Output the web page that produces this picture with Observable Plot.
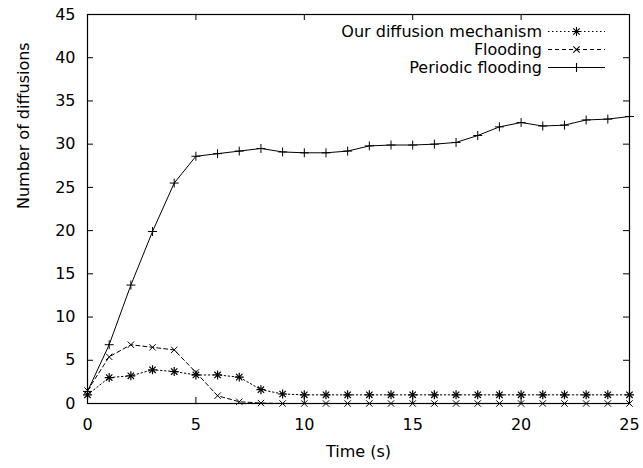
<!DOCTYPE html>
<html>
<head>
<meta charset="utf-8">
<script src="https://cdn.jsdelivr.net/npm/d3@7"></script>
<script src="https://cdn.jsdelivr.net/npm/@observablehq/plot@0.6"></script>
<style>
  html, body { margin: 0; padding: 0; background: #fff; }
  #chart { position: relative; width: 643px; height: 468px; }
  #legend { position: absolute; left: 0; top: 0; }
</style>
</head>
<body>
<div id="chart"></div>
<script>
const time = [0,1,2,3,4,5,6,7,8,9,10,11,12,13,14,15,16,17,18,19,20,21,22,23,24,25];
const ours = [1.0,3.0,3.2,3.9,3.7,3.3,3.3,3.05,1.6,1.1,1.0,1.0,1.0,1.0,1.0,1.0,1.0,1.0,1.0,1.0,1.0,1.0,1.0,1.0,1.0,1.0];
const flooding = [1.5,5.4,6.8,6.5,6.2,3.6,0.9,0.2,0.05,0,0,0,0,0,0,0,0,0,0,0,0,0,0,0,0,0];
const periodic = [1.4,6.8,13.7,19.9,25.5,28.6,28.9,29.2,29.5,29.1,29.0,29.0,29.2,29.8,29.9,29.9,30.0,30.2,31.0,32.0,32.5,32.1,32.2,32.8,32.9,33.2];
const seriesNames = ["Our diffusion mechanism", "Flooding", "Periodic flooding"];
const xTicks = [0,5,10,15,20,25];
const yTicks = [0,5,10,15,20,25,30,35,40,45];

const mk = (vals) => time.map((t, i) => ({t, v: vals[i]}));
const dOurs = mk(ours), dFlood = mk(flooding), dPer = mk(periodic);

const W = 643, H = 468;
const mL = 87, mR = 14, mT = 14, mB = 65;
const fh = H - mT - mB, fw = W - mL - mR;
const tl = 6;
const font = "DejaVu Sans";

const plot = Plot.plot({
  width: W, height: H,
  marginLeft: mL, marginRight: mR, marginTop: mT, marginBottom: mB,
  style: {fontFamily: font, fontSize: "16px", color: "black", background: "white"},
  x: {domain: [0, 25], ticks: xTicks, label: null},
  y: {domain: [0, 45], ticks: yTicks, label: null},
  marks: [
    Plot.axisX(xTicks, {tickSize: 0, tickPadding: 15, label: null, fontSize: 16}),
    Plot.axisY(yTicks, {tickSize: 0, tickPadding: 12, label: null, fontSize: 16}),
    Plot.tickX(xTicks, {x: d => d, stroke: "black", insetTop: fh - tl}),
    Plot.tickX(xTicks, {x: d => d, stroke: "black", insetBottom: fh - tl}),
    Plot.tickY(yTicks, {y: d => d, stroke: "black", insetRight: fw - tl}),
    Plot.tickY(yTicks, {y: d => d, stroke: "black", insetLeft: fw - tl}),
    Plot.line(dOurs, {x: "t", y: "v", stroke: "black", strokeWidth: 1, strokeDasharray: "1.5,2.5"}),
    Plot.line(dFlood, {x: "t", y: "v", stroke: "black", strokeWidth: 1, strokeDasharray: "4,3"}),
    Plot.line(dPer, {x: "t", y: "v", stroke: "black", strokeWidth: 1}),
    Plot.dot(dOurs, {x: "t", y: "v", symbol: "plus", r: 3, stroke: "black", strokeWidth: 1.2}),
    Plot.dot(dOurs, {x: "t", y: "v", symbol: "times", r: 3, stroke: "black", strokeWidth: 1.2}),
    Plot.dot(dFlood, {x: "t", y: "v", symbol: "times", r: 3, stroke: "black", strokeWidth: 1}),
    Plot.dot(dPer, {x: "t", y: "v", symbol: "plus", r: 3, stroke: "black", strokeWidth: 1}),
    Plot.frame({stroke: "black", strokeWidth: 1.2}),
    Plot.text(["Time (s)"], {frameAnchor: "bottom", lineAnchor: "middle", dy: 48, fontSize: 16, fill: "black"}),
    Plot.text(["Number of diffusions"], {frameAnchor: "left", lineAnchor: "middle", dx: -64, rotate: -90, fontSize: 16, fill: "black"})
  ]
});
const chart = document.getElementById("chart");
chart.appendChild(plot);

// Legend overlay (gnuplot-style key, top right)
const styles = [
  {dash: "1.5,2.5", syms: [d3.symbolPlus, d3.symbolTimes]},
  {dash: "4,3", syms: [d3.symbolTimes]},
  {dash: null, syms: [d3.symbolPlus]}
];
const leg = d3.select(chart).append("svg").attr("id", "legend")
  .attr("width", W).attr("height", H);
const textRight = 542, lineX1 = 548, lineX2 = 605, row0 = 31.5, rowH = 18;
seriesNames.forEach((name, i) => {
  const y = row0 + i * rowH;
  leg.append("text").attr("x", textRight).attr("y", y).attr("dy", "0.35em")
    .attr("text-anchor", "end").attr("font-family", font).attr("font-size", 16)
    .attr("fill", "black").text(name);
  leg.append("line").attr("x1", lineX1).attr("x2", lineX2).attr("y1", y).attr("y2", y)
    .attr("stroke", "black").attr("stroke-width", 1)
    .attr("stroke-dasharray", styles[i].dash);
  styles[i].syms.forEach(s => {
    leg.append("path").attr("d", d3.symbol(s, Math.PI * 9)())
      .attr("transform", `translate(${(lineX1 + lineX2) / 2},${y})`)
      .attr("fill", "none").attr("stroke", "black").attr("stroke-width", 1.1);
  });
});
</script>
</body>
</html>
